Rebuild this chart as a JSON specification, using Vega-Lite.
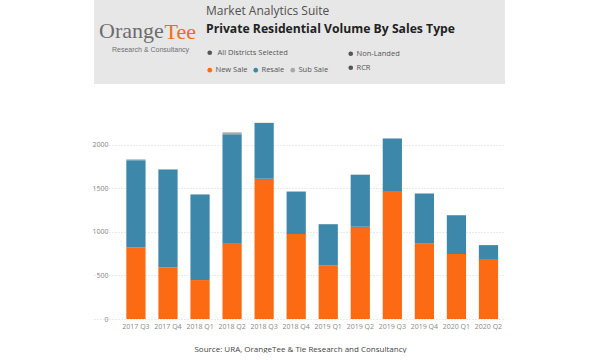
{
  "$schema": "https://vega.github.io/schema/vega-lite/v6.json",
  "padding": {"left": 91, "top": 0, "right": 0, "bottom": 0},
  "background": "white",
  "config": {"font": "Open Sans", "view": {"stroke": null}, "legend": {"padding": 0}},
  "title": {"text": "Orange", "anchor": "start", "frame": "bounds", "orient": "top", "offset": -43, "dx": 7, "font": "Liberation Serif", "fontSize": 22, "fontWeight": "normal", "color": "#6d6d6d"},
  "spacing": 35,
  "vconcat": [
    {
      "width": 411,
      "height": 84,
      "view": {"fill": "#e7e7e7", "stroke": null},
      "title": {"text": "Market Analytics Suite", "subtitle": "Private Residential Volume By Sales Type", "anchor": "start", "frame": "group", "orient": "top", "offset": -36, "dx": 112, "font": "Open Sans", "fontSize": 12, "fontWeight": "normal", "color": "#505050", "subtitleFont": "Open Sans", "subtitleFontSize": 12.2, "subtitleFontWeight": "bold", "subtitleColor": "#222222", "subtitlePadding": 5},
      "layer": [
        {
          "data": {"values": [{"filter": "All Districts Selected"}]},
          "mark": {"type": "point", "opacity": 0, "filled": true, "color": "#555555"},
          "encoding": {
            "x": {"field": "filter", "type": "nominal", "axis": {"labels": false, "ticks": false, "domain": false, "grid": false, "title": "Research & Consultancy", "titleX": 56, "titleY": -35, "titleAlign": "center", "titleBaseline": "middle", "titleFont": "Liberation Sans", "titleFontSize": 7, "titleFontWeight": "normal", "titleColor": "#707070"}},
            "y": {"field": "filter", "type": "nominal", "axis": {"labels": false, "ticks": false, "domain": false, "grid": false, "title": "Tee", "titleAngle": 0, "titleX": 70, "titleY": 38, "titleAlign": "left", "titleBaseline": "alphabetic", "titleFont": "Liberation Serif", "titleFontSize": 22, "titleFontWeight": "normal", "titleColor": "#f26a22"}},
            "shape": {"field": "filter", "type": "nominal", "scale": {"range": ["circle"]}, "legend": {"orient": "none", "legendX": 112, "legendY": 49, "title": null, "symbolOpacity": 1, "symbolSize": 22, "symbolFillColor": "#555555", "symbolStrokeWidth": 0, "labelFontSize": 7.5, "labelColor": "#555555", "labelOffset": 4}}
          }
        },
        {
          "data": {"values": [{"segment": "Non-Landed"}, {"segment": "RCR"}]},
          "mark": {"type": "point", "opacity": 0, "filled": true},
          "encoding": {
            "fill": {"field": "segment", "type": "nominal", "scale": {"range": ["#555555", "#555555"]}, "legend": {"orient": "none", "legendX": 253, "legendY": 50, "title": null, "symbolOpacity": 1, "symbolSize": 22, "symbolType": "circle", "symbolStrokeWidth": 0, "labelFontSize": 7.5, "labelColor": "#555555", "labelOffset": 2, "rowPadding": 5}}
          }
        }
      ]
    },
    {
      "width": 411,
      "height": 200,
      "data": {"values": [
        {"quarter": "2017 Q3", "type": "New Sale", "units": 823},
        {"quarter": "2017 Q3", "type": "Resale", "units": 1000},
        {"quarter": "2017 Q3", "type": "Sub Sale", "units": 9},
        {"quarter": "2017 Q4", "type": "New Sale", "units": 593},
        {"quarter": "2017 Q4", "type": "Resale", "units": 1119},
        {"quarter": "2017 Q4", "type": "Sub Sale", "units": 9},
        {"quarter": "2018 Q1", "type": "New Sale", "units": 447},
        {"quarter": "2018 Q1", "type": "Resale", "units": 983},
        {"quarter": "2018 Q1", "type": "Sub Sale", "units": 4},
        {"quarter": "2018 Q2", "type": "New Sale", "units": 864},
        {"quarter": "2018 Q2", "type": "Resale", "units": 1256},
        {"quarter": "2018 Q2", "type": "Sub Sale", "units": 22},
        {"quarter": "2018 Q3", "type": "New Sale", "units": 1610},
        {"quarter": "2018 Q3", "type": "Resale", "units": 640},
        {"quarter": "2018 Q3", "type": "Sub Sale", "units": 3},
        {"quarter": "2018 Q4", "type": "New Sale", "units": 975},
        {"quarter": "2018 Q4", "type": "Resale", "units": 487},
        {"quarter": "2018 Q4", "type": "Sub Sale", "units": 3},
        {"quarter": "2019 Q1", "type": "New Sale", "units": 612},
        {"quarter": "2019 Q1", "type": "Resale", "units": 476},
        {"quarter": "2019 Q1", "type": "Sub Sale", "units": 2},
        {"quarter": "2019 Q2", "type": "New Sale", "units": 1059},
        {"quarter": "2019 Q2", "type": "Resale", "units": 595},
        {"quarter": "2019 Q2", "type": "Sub Sale", "units": 2},
        {"quarter": "2019 Q3", "type": "New Sale", "units": 1469},
        {"quarter": "2019 Q3", "type": "Resale", "units": 602},
        {"quarter": "2019 Q3", "type": "Sub Sale", "units": 2},
        {"quarter": "2019 Q4", "type": "New Sale", "units": 868},
        {"quarter": "2019 Q4", "type": "Resale", "units": 572},
        {"quarter": "2019 Q4", "type": "Sub Sale", "units": 2},
        {"quarter": "2020 Q1", "type": "New Sale", "units": 746},
        {"quarter": "2020 Q1", "type": "Resale", "units": 445},
        {"quarter": "2020 Q1", "type": "Sub Sale", "units": 2},
        {"quarter": "2020 Q2", "type": "New Sale", "units": 688},
        {"quarter": "2020 Q2", "type": "Resale", "units": 160},
        {"quarter": "2020 Q2", "type": "Sub Sale", "units": 1}
      ]},
      "mark": {"type": "bar"},
      "encoding": {
        "x": {"field": "quarter", "type": "ordinal", "sort": null, "scale": {"paddingInner": 0.4, "paddingOuter": 0.612, "align": 0.824},
              "axis": {"labelAngle": 0, "labelFontSize": 7, "labelColor": "#888888", "labelPadding": 3, "domain": false, "ticks": false,
                       "title": "Source: URA, OrangeTee & Tie Research and Consultancy", "titleFontSize": 8, "titleFontWeight": "normal", "titleColor": "#444444", "titleX": 206, "titleY": 30, "titleAlign": "center", "titleBaseline": "middle"}},
        "y": {"aggregate": "sum", "field": "units", "type": "quantitative", "scale": {"domain": [0, 2295], "nice": false},
              "axis": {"values": [0, 500, 1000, 1500, 2000], "format": "d", "offset": -26, "title": null, "labelFontSize": 7, "labelColor": "#888888", "labelPadding": 12, "domain": false, "ticks": false, "gridColor": "#d4d4d4", "gridDash": [1, 2], "gridWidth": 1}},
        "color": {"field": "type", "type": "nominal", "scale": {"domain": ["New Sale", "Resale", "Sub Sale"], "range": ["#fd6a14", "#3c87aa", "#a8a8a8"]},
                  "legend": {"orient": "none", "legendX": 112, "legendY": 66, "direction": "horizontal", "title": null, "symbolType": "circle", "symbolSize": 22, "symbolStrokeWidth": 0, "labelFontSize": 7.5, "labelColor": "#555555", "labelOffset": 2, "columnPadding": 4}},
        "order": {"field": "type", "type": "nominal", "sort": "ascending"}
      }
    }
  ]
}
